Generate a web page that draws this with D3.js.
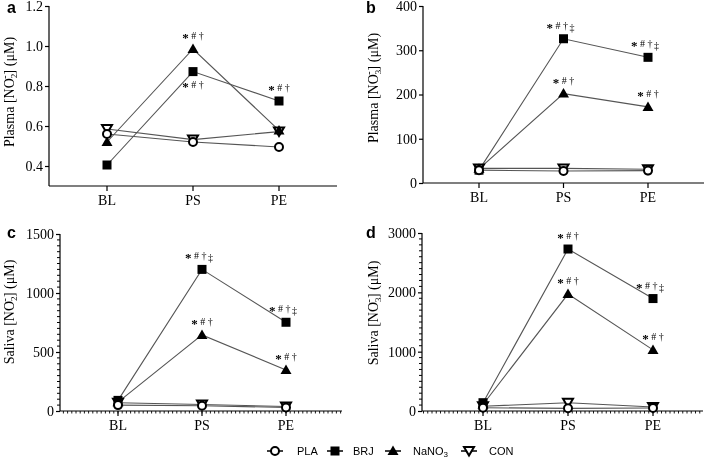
<!DOCTYPE html>
<html><head><meta charset="utf-8">
<script src="https://cdn.jsdelivr.net/npm/d3@7"></script>
<style>body{margin:0;background:#fff}svg{display:block;will-change:transform}</style>
</head><body>
<svg id="c" width="709" height="462"></svg>
<script>
const categories = ["BL","PS","PE"];
const seriesNames = ["PLA","BRJ","NaNO3","CON"];

// Panel a: Plasma nitrite
const aPLA = [0.56, 0.52, 0.495];
const aBRJ = [0.405, 0.872, 0.725];
const aNaNO3 = [0.52, 0.985, 0.578];
const aCON = [0.585, 0.532, 0.572];
const aTicks = [0.4, 0.6, 0.8, 1.0, 1.2];

// Panel b: Plasma nitrate
const bPLA = [29, 27, 28];
const bBRJ = [29, 326, 284];
const bNaNO3 = [32, 202, 172];
const bCON = [33, 33, 31];
const bTicks = [0, 100, 200, 300, 400];

// Panel c: Saliva nitrite
const cPLA = [50, 45, 30];
const cBRJ = [90, 1200, 752];
const cNaNO3 = [75, 645, 348];
const cCON = [70, 55, 38];
const cTicks = [0, 500, 1000, 1500];

// Panel d: Saliva nitrate
const dPLA = [55, 45, 50];
const dBRJ = [140, 2730, 1895];
const dNaNO3 = [110, 1970, 1030];
const dCON = [80, 140, 68];
const dTicks = [0, 1000, 2000, 3000];

// annotations: [category index, series, text, extra]
const aNotes = [[1,"NaNO3","*#†",""],[1,"BRJ","*#†","below"],[2,"BRJ","*#†",""]];
const bNotes = [[1,"BRJ","*#†","‡"],[2,"BRJ","*#†","‡"],[1,"NaNO3","*#†",""],[2,"NaNO3","*#†",""]];
const cNotes = [[1,"BRJ","*#†","‡"],[2,"BRJ","*#†","‡"],[1,"NaNO3","*#†",""],[2,"NaNO3","*#†",""]];
const dNotes = [[1,"BRJ","*#†",""],[2,"BRJ","*#†","‡"],[1,"NaNO3","*#†",""],[2,"NaNO3","*#†",""]];

const panels = [
  {letter:"a", data:{PLA:aPLA,BRJ:aBRJ,NaNO3:aNaNO3,CON:aCON}, ticks:aTicks, domain:[0.3,1.2], fmt:d3.format(".1f"),
   left:49, right:337, top:6, bottom:186, xs:[107,279], label:["Plasma [NO","2","-","] (μM)"], labX:14, labY:92,
   letX:7, letY:13, minor:false, notes:aNotes},
  {letter:"b", data:{PLA:bPLA,BRJ:bBRJ,NaNO3:bNaNO3,CON:bCON}, ticks:bTicks, domain:[0,400], fmt:d3.format("d"),
   left:423, right:704, top:6, bottom:183, xs:[479,648], label:["Plasma [NO","3","-","] (μM)"], labX:378, labY:88,
   letX:366, letY:13, minor:false, notes:bNotes},
  {letter:"c", data:{PLA:cPLA,BRJ:cBRJ,NaNO3:cNaNO3,CON:cCON}, ticks:cTicks, domain:[0,1500], fmt:d3.format("d"),
   left:60, right:342, top:234, bottom:411, xs:[118,286], label:["Saliva [NO","2","-","] (μM)"], labX:14, labY:312,
   letX:7, letY:238, minor:true, minorStep:50, notes:cNotes},
  {letter:"d", data:{PLA:dPLA,BRJ:dBRJ,NaNO3:dNaNO3,CON:dCON}, ticks:dTicks, domain:[0,3000], fmt:d3.format("d"),
   left:422, right:703, top:233, bottom:411, xs:[483,653], label:["Saliva [NO","3","-","] (μM)"], labX:378, labY:313,
   letX:366, letY:238, minor:true, minorStep:100, notes:dNotes}
];

const svg = d3.select("#c");
const serif = "'Liberation Serif','Times New Roman',serif";
const sans = "'Liberation Sans',Arial,sans-serif";

function marker(g, name, x, y) {
  if (name === "PLA") {
    g.append("circle").attr("cx",x).attr("cy",y).attr("r",4).attr("fill","#fff").attr("stroke","#000").attr("stroke-width",2);
  } else if (name === "BRJ") {
    g.append("rect").attr("x",x-4.5).attr("y",y-4.5).attr("width",9).attr("height",9).attr("fill","#000");
  } else if (name === "NaNO3") {
    g.append("path").attr("d",`M${x},${y-5.5}L${x+5.5},${y+4}L${x-5.5},${y+4}Z`).attr("fill","#000");
  } else {
    g.append("path").attr("d",`M${x-5},${y-4}L${x+5},${y-4}L${x},${y+4.5}Z`).attr("fill","#fff").attr("stroke","#000").attr("stroke-width",2).attr("stroke-linejoin","miter");
  }
}

panels.forEach(p => {
  const g = svg.append("g");
  const x = d3.scaleLinear().domain([0, 2]).range(p.xs);
  const y = d3.scaleLinear().domain(p.domain).range([p.bottom, p.top]);

  // y axis
  const yAxis = d3.axisLeft(y).tickValues(p.ticks).tickFormat(p.fmt).tickSize(4).tickSizeOuter(0);
  const yg = g.append("g").attr("transform",`translate(${p.left},0)`).call(yAxis);
  yg.select(".domain").remove();
  g.append("line").attr("x1",p.left).attr("x2",p.left).attr("y1",p.top).attr("y2",p.bottom).attr("stroke","#000").attr("stroke-width",1.2);
  yg.selectAll(".tick line").attr("stroke","#000").attr("stroke-width",1.2);
  yg.selectAll(".tick text").attr("font-family",serif).attr("font-size",14).attr("fill","#000").attr("x",-6);

  if (p.minor) {
    const mins = d3.range(p.domain[0], p.domain[1] + 1e-9, p.minorStep).filter(v => !p.ticks.includes(v));
    g.selectAll(null).data(mins).enter().append("line")
      .attr("x1",p.left-3).attr("x2",p.left).attr("y1",d=>y(d)).attr("y2",d=>y(d)).attr("stroke","#000").attr("stroke-width",1);
  }

  // x axis
  g.append("line").attr("x1",p.left).attr("x2",p.right).attr("y1",p.bottom).attr("y2",p.bottom).attr("stroke","#000").attr("stroke-width",1.2);
  if (p.minor) {
    const lo = x.invert(p.left), hi = x.invert(p.right);
    const mt = d3.range(Math.ceil(lo*20), Math.floor(hi*20)+1).map(k => k/20);
    g.selectAll(null).data(mt).enter().append("line")
      .attr("x1",d=>x(d)).attr("x2",d=>x(d)).attr("y1",p.bottom).attr("y2",p.bottom+2.5).attr("stroke","#000").attr("stroke-width",0.9);
  }
  categories.forEach((c,i) => {
    g.append("line").attr("x1",x(i)).attr("x2",x(i)).attr("y1",p.bottom).attr("y2",p.bottom+5).attr("stroke","#000").attr("stroke-width",1.2);
    g.append("text").attr("x",x(i)).attr("y",p.bottom+19).attr("text-anchor","middle")
      .attr("font-family",serif).attr("font-size",14).attr("fill","#000").text(c);
  });

  // lines
  const line = d3.line().x((d,i)=>x(i)).y(d=>y(d));
  seriesNames.forEach(s => {
    g.append("path").attr("d",line(p.data[s])).attr("fill","none").attr("stroke","#555").attr("stroke-width",1.1);
  });
  // markers
  ["CON","NaNO3","BRJ","PLA"].forEach(s => {
    p.data[s].forEach((v,i) => marker(g, s, x(i), y(v)));
  });

  // annotations
  p.notes.forEach(([ci, s, t, extra]) => {
    const px = x(ci), py = y(p.data[s][ci]);
    const below = extra === "below";
    const ty = below ? py + 16 : py - 10;
    const txt = g.append("text").attr("x",px + (extra==="‡"?-3:0)).attr("y",ty).attr("text-anchor","middle")
      .attr("font-family",serif).attr("font-size",10).attr("fill","#000");
    txt.append("tspan").attr("font-size",13).attr("font-weight","bold").attr("dy",3).text("*");
    txt.append("tspan").attr("dy",-3).attr("dx",2.5).text("#");
    txt.append("tspan").attr("dx",2.5).text("†");
    if (extra === "‡") txt.append("tspan").attr("dx",1.5).attr("dy",2).text("‡");
  });

  // y label
  const lab = g.append("text").attr("transform",`translate(${p.labX},${p.labY}) rotate(-90)`).attr("text-anchor","middle")
    .attr("font-family",serif).attr("font-size",14).attr("fill","#000");
  lab.append("tspan").text(p.label[0]);
  lab.append("tspan").attr("font-size",9).attr("dy",3).text(p.label[1]);
  lab.append("tspan").attr("font-size",10).attr("dx",-5).attr("dy",-9).text(p.label[2]);
  lab.append("tspan").attr("dy",6).attr("dx",1).text(p.label[3]);

  // panel letter
  g.append("text").attr("x",p.letX).attr("y",p.letY).attr("font-family",sans).attr("font-weight","bold")
    .attr("font-size",16).attr("fill","#000").text(p.letter);
});

// legend
const legY = 451;
const legItems = [
  {s:"PLA", mx:275, tx:297},
  {s:"BRJ", mx:335, tx:353},
  {s:"NaNO3", mx:393, tx:413},
  {s:"CON", mx:469, tx:489}
];
const lg = svg.append("g");
legItems.forEach(it => {
  lg.append("line").attr("x1",it.mx-8).attr("x2",it.mx+8).attr("y1",legY).attr("y2",legY).attr("stroke","#000").attr("stroke-width",1.5);
  marker(lg, it.s, it.mx, legY);
  const t = lg.append("text").attr("x",it.tx).attr("y",legY+4).attr("font-family",sans).attr("font-size",11).attr("fill","#000");
  if (it.s === "NaNO3") {
    t.append("tspan").text("NaNO");
    t.append("tspan").attr("font-size",8).attr("dy",2).text("3");
  } else t.text(it.s);
});
</script>
</body></html>
